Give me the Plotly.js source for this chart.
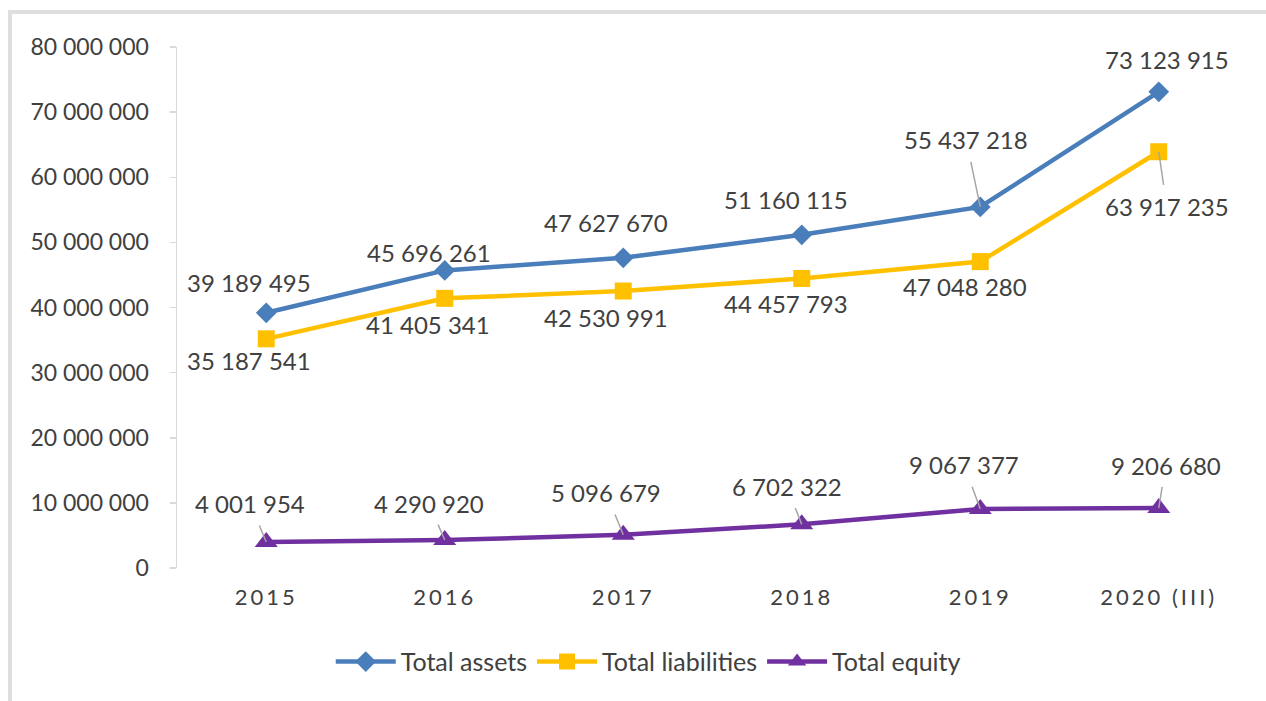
<!DOCTYPE html>
<html>
<head>
<meta charset="utf-8">
<script src="https://cdn.plot.ly/plotly-3.0.1.min.js"></script>
<style>
  html, body { margin: 0; padding: 0; background: #ffffff; }
  #wrap { position: relative; width: 1266px; height: 701px; overflow: hidden; }
  #frame { position: absolute; left: 8px; top: 10px; width: 1300px; height: 760px;
           border-left: 4px solid #dedede; border-top: 4px solid #dedede; pointer-events: none; }
  #chart { position: absolute; left: 0; top: 0; width: 1266px; height: 701px; }
  .xtick text { letter-spacing: 3px; }
</style>
</head>
<body>
<div id="wrap">
  <div id="chart"></div>
  <div id="frame"></div>
</div>
<script>
// ---- data ----
const categories = ["2015", "2016", "2017", "2018", "2019", "2020 (III)"];
const totalAssets = [39189495, 45696261, 47627670, 51160115, 55437218, 73123915];
const totalLiabilities = [35187541, 41405341, 42530991, 44457793, 47048280, 63917235];
const totalEquity = [4001954, 4290920, 5096679, 6702322, 9067377, 9206680];
const seriesNames = ["Total assets", "Total liabilities", "Total equity"];
const yTickValues = [0, 10000000, 20000000, 30000000, 40000000, 50000000, 60000000, 70000000, 80000000];

// ---- label placement (pixel offsets of label centre from the point) ----
const assetsDx = [-17, -16, -17, -16, -14, 8];
const assetsDy = [-30, -18, -35, -35, -67, -32];
const assetsArrow = [false, false, false, false, true, false];
const liabDx = [-17, -17, -17, -16, -15, 8];
const liabDy = [22, 26, 26, 25, 25, 55];
const liabArrow = [false, false, false, false, false, true];
const equityDx = [-16, -16, -17, -15, -16, 7];
const equityDy = [-38, -37, -42, -38, -44, -43];
const equityArrow = [true, true, true, true, true, true];

const colors = ["#4a7ebb", "#ffc000", "#7030a0"];
const FONT = "Lato, 'Open Sans', sans-serif";
const labelColor = "#404040";

function fmt(v) {
  return String(v).replace(/\B(?=(\d{3})+(?!\d))/g, " ");
}

function lineTrace(name, values, color, symbol, size) {
  return {
    type: "scatter", mode: "lines+markers", name: name,
    x: categories, y: values,
    line: { color: color, width: 4.5 },
    marker: { color: color, symbol: symbol, size: size },
    hoverinfo: "skip"
  };
}

const traces = [
  lineTrace(seriesNames[0], totalAssets, colors[0], "diamond", 16),
  lineTrace(seriesNames[1], totalLiabilities, colors[1], "square", 17),
  lineTrace(seriesNames[2], totalEquity, colors[2], "triangle-up", 20)
];

const annotations = [];
function addLabels(values, dx, dy, arrow) {
  values.forEach((v, i) => {
    const a = {
      x: i, y: v, xref: "x", yref: "y",   // category index on the category axis
      text: fmt(v),
      font: { family: FONT, size: 24, color: labelColor },
      borderpad: 2
    };
    if (arrow[i]) {
      a.showarrow = true;
      a.arrowhead = 0;
      a.arrowwidth = 1.5;
      a.arrowcolor = "#a6a6a6";
      a.ax = dx[i];
      a.ay = dy[i];
      a.standoff = 0;
      a.startstandoff = 5;
    } else {
      a.showarrow = false;
      a.xshift = dx[i];
      a.yshift = -dy[i];
    }
    annotations.push(a);
  });
}
addLabels(totalAssets, assetsDx, assetsDy, assetsArrow);
addLabels(totalLiabilities, liabDx, liabDy, liabArrow);
addLabels(totalEquity, equityDx, equityDy, equityArrow);

const layout = {
  width: 1266, height: 701,
  margin: { l: 177, r: 18, t: 47, b: 133 },
  paper_bgcolor: "rgba(0,0,0,0)",
  plot_bgcolor: "rgba(0,0,0,0)",
  separators: ", ",
  showlegend: true,
  legend: {
    orientation: "h", x: 0.44, xanchor: "center", y: -0.18, yanchor: "middle",
    font: { family: FONT, size: 25, color: labelColor },
    itemwidth: 60, traceorder: "normal"
  },
  xaxis: {
    type: "category", range: [-0.5, 5.5],
    showline: false, showgrid: false, zeroline: false, ticks: "",
    tickfont: { family: FONT, size: 22, color: "#404040" },
    ticklabelstandoff: 14
  },
  yaxis: {
    range: [0, 80000000],
    tickvals: yTickValues, tickformat: ",d",
    showline: true, linecolor: "#d9d9d9", linewidth: 1.5,
    ticks: "outside", ticklen: 6, tickcolor: "#d9d9d9", tickwidth: 1.5,
    showgrid: false, zeroline: false,
    tickfont: { family: FONT, size: 23, color: "#404040" },
    ticklabelstandoff: 16
  },
  annotations: annotations
};

Plotly.newPlot("chart", traces, layout, { staticPlot: true, displayModeBar: false });
</script>
</body>
</html>
